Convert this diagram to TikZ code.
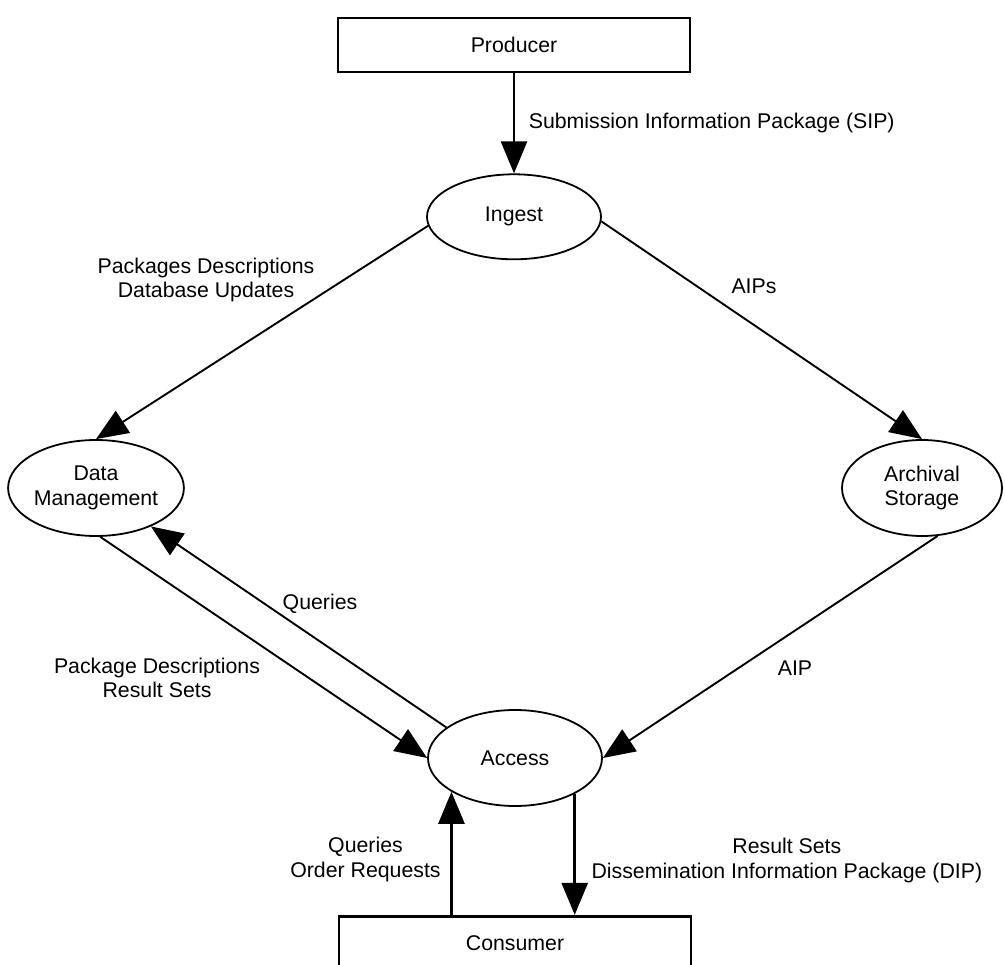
\documentclass[tikz,border=0pt]{standalone}
\usepackage{fontspec}
\setmainfont{Liberation Sans}
\usetikzlibrary{arrows.meta,positioning,shapes.geometric}

\begin{document}
\begin{tikzpicture}[
  x=1pt, y=-1pt,
  font=\fontsize{21.3}{24.5}\selectfont,
  ent/.style  = {draw, line width=2.8pt, minimum width=352pt, minimum height=54pt,
                 inner sep=0pt},
  func/.style = {draw, ellipse, line width=1.8pt, align=center, inner sep=0pt},
  arr/.style  = {-{Triangle[length=32pt, width=26pt]}, line width=1.9pt},
  varr/.style = {arr, line width=2.6pt},
  lab/.style  = {align=center, inner sep=1.5pt}
]
\useasboundingbox (0,0) rectangle (1005,965);

%% ---- entities and functions ---------------------------------------
\node[ent] (producer) at (514,45) {Producer};
\node[func, minimum width=174pt, minimum height=85pt, below=100pt of producer]
  (ingest) {Ingest};
\node[func, minimum width=172pt, minimum height=96pt] (dm) at (96,488)
  {Data\\Management};
\node[func, minimum width=160pt, minimum height=96pt] (as) at (922,488)
  {Archival\\Storage};
\node[func, minimum width=174pt, minimum height=96pt] (access) at (515,758)
  {Access};
\node[ent, below=108pt of access] (consumer) {Consumer};

%% ---- flows ---------------------------------------------------------
\draw[varr] (producer) -- node[lab, right=12pt] {Submission Information Package (SIP)} (ingest);
\draw[arr] (ingest.186) -- (dm.north);
\draw[arr] (ingest.-3) -- (as.north);
\draw[arr] (dm.-85) -- (access.west);
\draw[arr] (access.156) -- (dm.-35);
\draw[arr] (as.-72) -- (access.east);
\draw[varr] (consumer.north -| access.208) -- node[lab, left=8pt, pos=0.45]
  {Queries\\Order Requests} (access.208);
\draw[varr] (access.329) -- node[lab, right=14pt, pos=0.55]
  {Result Sets\\Dissemination Information Package (DIP)} (access.329 |- consumer.north);

%% ---- flow labels ---------------------------------------------------
\node[lab] (pdlab)   at (206,280) {Packages Descriptions\\Database Updates};
\node[lab] (aipslab) at (754,286) {AIPs};
\node[lab] (qlab)    at (320,604) {Queries};
\node[lab] (prlab)   at (157,678) {Package Descriptions\\Result Sets};
\node[lab] (aiplab)  at (795,668) {AIP};
\end{tikzpicture}
\end{document}
